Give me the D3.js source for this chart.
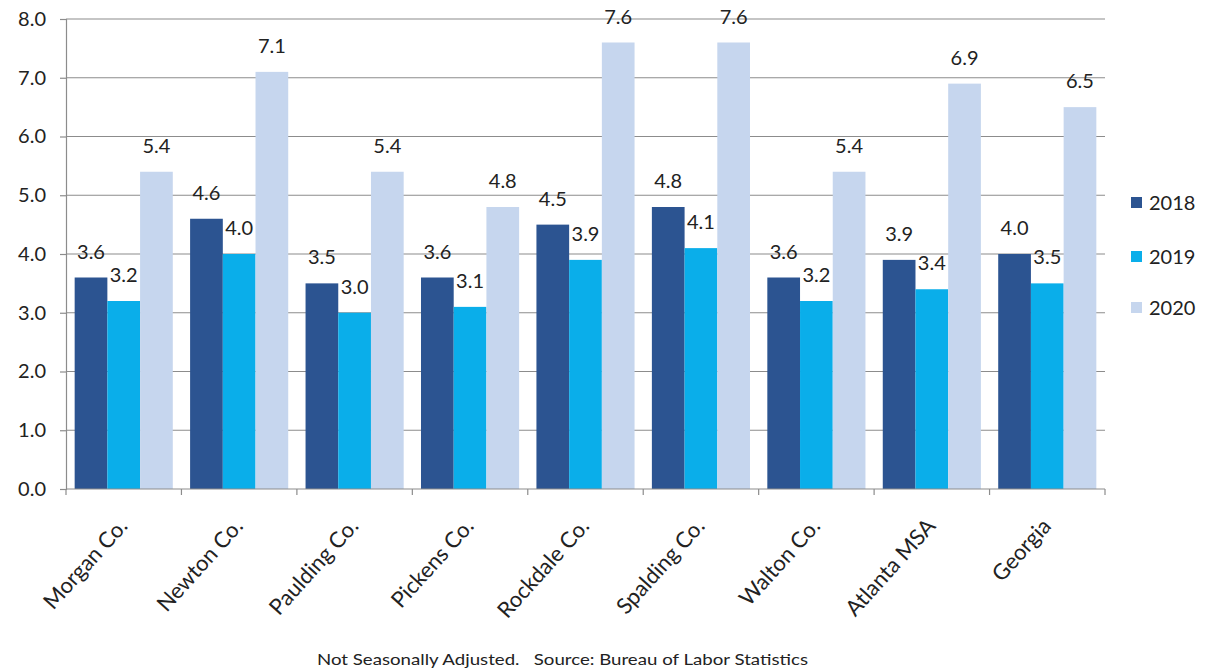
<!DOCTYPE html>
<html>
<head>
<meta charset="utf-8">
<script src="https://cdn.jsdelivr.net/npm/d3@7"></script>
<style>
  html, body { margin: 0; padding: 0; background: #fff; }
  svg { display: block; font-family: Lato, "Open Sans", sans-serif; }
</style>
</head>
<body>
<svg id="chart" width="1209" height="671"></svg>
<script>
// Unemployment rate by area, annual averages
const categories = ["Morgan Co.", "Newton Co.", "Paulding Co.", "Pickens Co.", "Rockdale Co.",
                    "Spalding Co.", "Walton Co.", "Atlanta MSA", "Georgia"];
const seriesNames = ["2018", "2019", "2020"];
const values2018 = [3.6, 4.6, 3.5, 3.6, 4.5, 4.8, 3.6, 3.9, 4.0];
const values2019 = [3.2, 4.0, 3.0, 3.1, 3.9, 4.1, 3.2, 3.4, 3.5];
const values2020 = [5.4, 7.1, 5.4, 4.8, 7.6, 7.6, 5.4, 6.9, 6.5];
const yTicks = [0, 1, 2, 3, 4, 5, 6, 7, 8];
const footnote = "Not Seasonally Adjusted.   Source: Bureau of Labor Statistics";

const seriesValues = [values2018, values2019, values2020];
const colors = ["#2c5491", "#0aaeea", "#c6d6ee"];

const svg = d3.select("#chart");
const margin = { left: 66, right: 104, top: 19, bottom: 182 };
const width = 1209 - margin.left - margin.right;
const height = 671 - margin.top - margin.bottom;

const g = svg.append("g").attr("transform", `translate(${margin.left},${margin.top})`);

const x0 = d3.scaleBand().domain(categories).range([0, width]).paddingInner(0.15).paddingOuter(0.075);
const x1 = d3.scaleBand().domain(seriesNames).range([0, x0.bandwidth()]);
const y = d3.scaleLinear().domain([0, 8]).range([height, 0]);

// horizontal gridlines
g.append("g")
  .selectAll("line")
  .data(yTicks.filter(t => t > 0))
  .join("line")
  .attr("x1", 0).attr("x2", width)
  .attr("y1", d => y(d)).attr("y2", d => y(d))
  .attr("stroke", "#8c8c8c").attr("stroke-width", 1.2);

// bars
const groups = g.append("g")
  .selectAll("g")
  .data(categories)
  .join("g")
  .attr("transform", d => `translate(${x0(d)},0)`);

groups.selectAll("rect")
  .data((d, i) => seriesNames.map((s, k) => ({ s, v: seriesValues[k][i], k })))
  .join("rect")
  .attr("x", d => x1(d.s))
  .attr("y", d => y(d.v))
  .attr("width", x1.bandwidth())
  .attr("height", d => y(0) - y(d.v))
  .attr("fill", d => colors[d.k]);

// value labels
groups.selectAll("text")
  .data((d, i) => seriesNames.map((s, k) => ({ s, v: seriesValues[k][i], k })))
  .join("text")
  .attr("x", d => x1(d.s) + x1.bandwidth() / 2)
  .attr("y", d => y(d.v) - 19)
  .attr("text-anchor", "middle")
  .attr("font-size", 20)
  .attr("fill", "#222")
  .text(d => d.v.toFixed(1));

// y axis
const yAxis = g.append("g")
  .call(d3.axisLeft(y).tickValues(yTicks).tickFormat(d3.format(".1f")).tickSize(6).tickPadding(14));
yAxis.select(".domain").attr("stroke", "#8c8c8c").attr("stroke-width", 1.2);
yAxis.selectAll(".tick line").attr("stroke", "#8c8c8c").attr("stroke-width", 1.2);
yAxis.selectAll(".tick text").attr("font-size", 20).attr("fill", "#222")
  .attr("font-family", "Lato, sans-serif");

// x axis baseline with boundary ticks
const xAxisG = g.append("g").attr("transform", `translate(0,${height})`);
xAxisG.append("line").attr("x1", 0).attr("x2", width).attr("y1", 0).attr("y2", 0)
  .attr("stroke", "#8c8c8c").attr("stroke-width", 1.2);
const step = x0.step();
xAxisG.selectAll("line.tk")
  .data(d3.range(categories.length + 1))
  .join("line").attr("class", "tk")
  .attr("x1", i => i * step).attr("x2", i => i * step)
  .attr("y1", 0).attr("y2", 6)
  .attr("stroke", "#8c8c8c").attr("stroke-width", 1.2);

xAxisG.selectAll("text")
  .data(categories)
  .join("text")
  .attr("transform", d => `translate(${x0(d) + x0.bandwidth() / 2 + 5},${38}) rotate(-48)`)
  .attr("text-anchor", "end")
  .attr("font-size", 22)
  .attr("fill", "#222")
  .text(d => d);

// legend
const legend = svg.append("g").attr("transform", "translate(1131,0)");
const legendY = [203, 257, 308];
seriesNames.forEach((s, k) => {
  legend.append("rect").attr("x", 0).attr("y", legendY[k] - 6).attr("width", 11).attr("height", 11)
    .attr("fill", colors[k]);
  legend.append("text").attr("x", 18).attr("y", legendY[k] + 7)
    .attr("font-size", 20).attr("fill", "#222").text(s);
});

// footnote
svg.append("text")
  .attr("x", 317).attr("y", 665)
  .attr("font-size", 16)
  .attr("fill", "#222")
  .attr("textLength", 491)
  .attr("lengthAdjust", "spacingAndGlyphs")
  .attr("xml:space", "preserve")
  .style("white-space", "pre")
  .text(footnote);
</script>
</body>
</html>
